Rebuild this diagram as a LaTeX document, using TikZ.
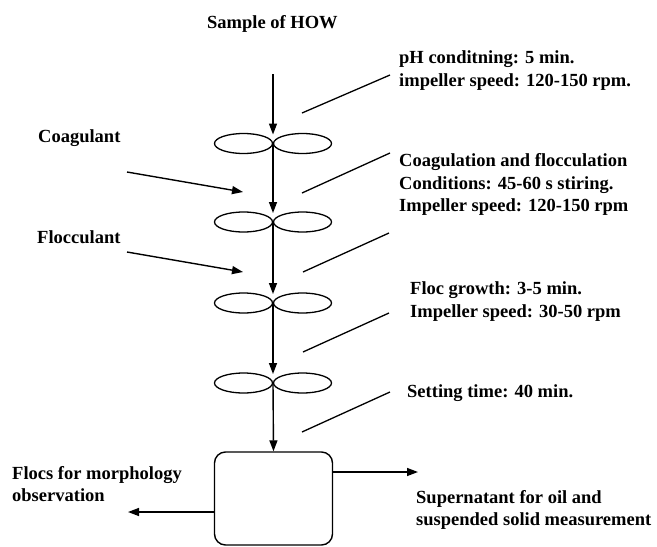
\documentclass[tikz,border=0pt]{standalone}
\usepackage{fontspec}
\setmainfont{Liberation Serif}
\usetikzlibrary{arrows.meta,shapes.geometric}
\begin{document}
\begin{tikzpicture}[x=1pt,y=-1pt,
  lbl/.style={anchor=west,inner sep=0pt,align=left,font=\fontsize{18.5}{22.5}\selectfont\bfseries},
  lobe/.style={draw,ellipse,line width=1.3pt,minimum width=58pt,minimum height=20pt,inner sep=0pt,outer sep=0pt},
  flow/.style={line width=1.4pt,-{Triangle[length=11pt,width=8pt]}},
  leader/.style={line width=1.3pt},
  tank/.style={draw,line width=1.4pt,rounded corners=11pt}]
\useasboundingbox (0,0) rectangle (657,547);

% texts
\node[lbl] (sample) at (207,24) {Sample of HOW};
\node[lbl] (ph) at (399,70.5) {pH conditning: 5 min.\\impeller speed: 120-150 rpm.};
\node[lbl] (coag) at (399,184.5) {Coagulation and flocculation\\Conditions: 45-60 s stiring.\\Impeller speed: 120-150 rpm};
\node[lbl] (growth) at (410,301.5) {Floc growth: 3-5 min.\\Impeller speed: 30-50 rpm};
\node[lbl] (settle) at (407,393) {Setting time: 40 min.};
\node[lbl] (coagulant) at (38,138) {Coagulant};
\node[lbl] (flocculant) at (37,237) {Flocculant};
\node[lbl] (flocs) at (12,484) {Flocs for morphology\\observation};
\node[lbl] (super) at (416,510) {Supernatant for oil and\\suspended solid measurement};

% impellers
\foreach \n/\y in {1/143.5,2/222,3/303,4/383}{
  \node[lobe] (i\n a) at (243.5,\y) {};
  \node[lobe] (i\n b) at (302.5,\y) {};
  \coordinate (i\n) at (273,\y);
  \coordinate (i\n t) at (273,\y-9);
}

% settling tank
\node[tank,minimum width=118pt,minimum height=93pt,inner sep=0pt] (tank) at (273.5,498.5) {};

% main flow
\coordinate (in) at (273,74);
\draw[flow] (in) -- (i1t);
\draw[flow] (i1) -- (i2t);
\draw[flow] (i2) -- (i3t);
\draw[flow] (i3) -- (i4t);
\draw[flow] (i4) -- (tank.north);

% dosing arrows
\coordinate (c0) at (127,172); \coordinate (c1) at (243,192);
\coordinate (f0) at (127,252); \coordinate (f1) at (243,272);
\draw[flow] (c0) -- (c1);
\draw[flow] (f0) -- (f1);

% outputs
\coordinate (outR) at (418,472);
\coordinate (outL) at (128,512);
\draw[flow] (tank.east |- outR) -- (outR);
\draw[flow] (tank.west |- outL) -- (outL);

% leader lines
\foreach \k/\a/\b/\c/\d in {1/302/113/390/75,2/302/193/390/153,3/303/272/389/233,4/303/352/389/313,5/302/432/390/392}{
  \coordinate (l\k a) at (\a,\b);
  \coordinate (l\k b) at (\c,\d);
  \draw[leader] (l\k a) -- (l\k b);
}
\end{tikzpicture}
\end{document}
